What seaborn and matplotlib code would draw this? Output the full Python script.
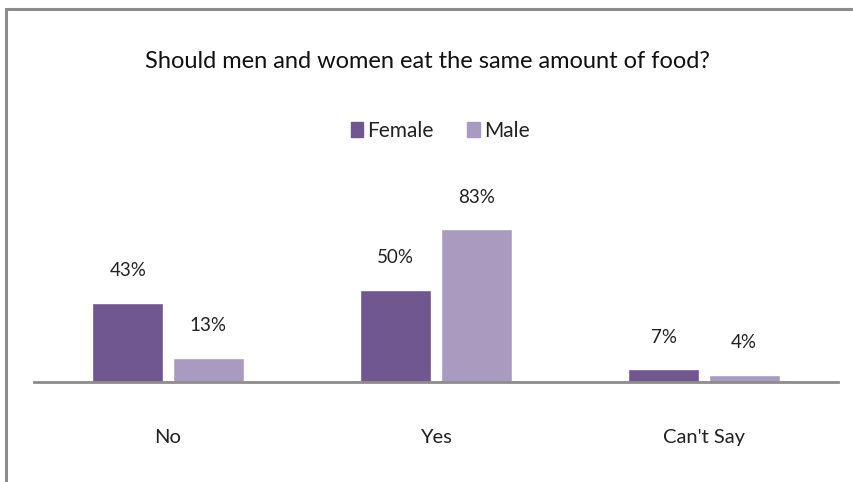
import matplotlib
matplotlib.use("Agg")
import matplotlib.pyplot as plt
import seaborn as sns
import pandas as pd
from matplotlib.patches import Rectangle

categories = ["No", "Yes", "Can't Say"]
female = [43, 50, 7]
male = [13, 83, 4]
series = ["Female", "Male"]
title = "Should men and women eat the same amount of food?"

df = pd.DataFrame({
    "cat": categories * 2,
    "val": female + male,
    "sex": ["Female"] * 3 + ["Male"] * 3,
})

sns.set_theme(style="white")
plt.rcParams["font.family"] = ["Lato", "DejaVu Sans"]

fig = plt.figure(figsize=(8.54, 4.82), dpi=100)
ax = fig.add_axes([34/854, 100/482, 804/854, 184/482])
palette = {"Female": "#71578f", "Male": "#a99bc0"}
sns.barplot(data=df, x="cat", y="val", hue="sex", order=categories,
            hue_order=series, palette=palette, width=0.6, gap=0.12,
            saturation=1, ax=ax, legend=False)
ax.set_xlim(-0.5, 2.5)
ax.set_ylim(0, 100)
for s in ["top", "right", "left"]:
    ax.spines[s].set_visible(False)
ax.spines["bottom"].set_color("#8c8c8c")
ax.spines["bottom"].set_linewidth(2)
ax.set_yticks([])
ax.set_xlabel("")
ax.set_ylabel("")
ax.tick_params(axis="x", length=0, pad=34, labelsize=14.5, labelcolor="#222222")

for cont in ax.containers:
    ax.bar_label(cont, labels=[f"{int(v)}%" for v in cont.datavalues],
                 padding=17, fontsize=13.5, color="#222222")

fig.text(0.5, 1 - 62/482, title, ha="center", va="center", fontsize=17,
         color="#111111")

handles = [plt.Rectangle((0, 0), 1, 1, color=palette[s]) for s in series]
fig.legend(handles, series, loc="center", bbox_to_anchor=(440/854, 1 - 131/482),
           ncol=2, frameon=False, fontsize=15, handlelength=0.6, handleheight=0.7,
           handletextpad=0.2, columnspacing=1.6, labelcolor="#222222")

fig.patches.append(Rectangle((6/854, -0.1), 1.2, 1 - 9/482 + 0.1,
                             transform=fig.transFigure, fill=False,
                             edgecolor="#8c8c8c", linewidth=2.2, zorder=0))

fig.savefig("out.png", dpi=100, facecolor="white")
